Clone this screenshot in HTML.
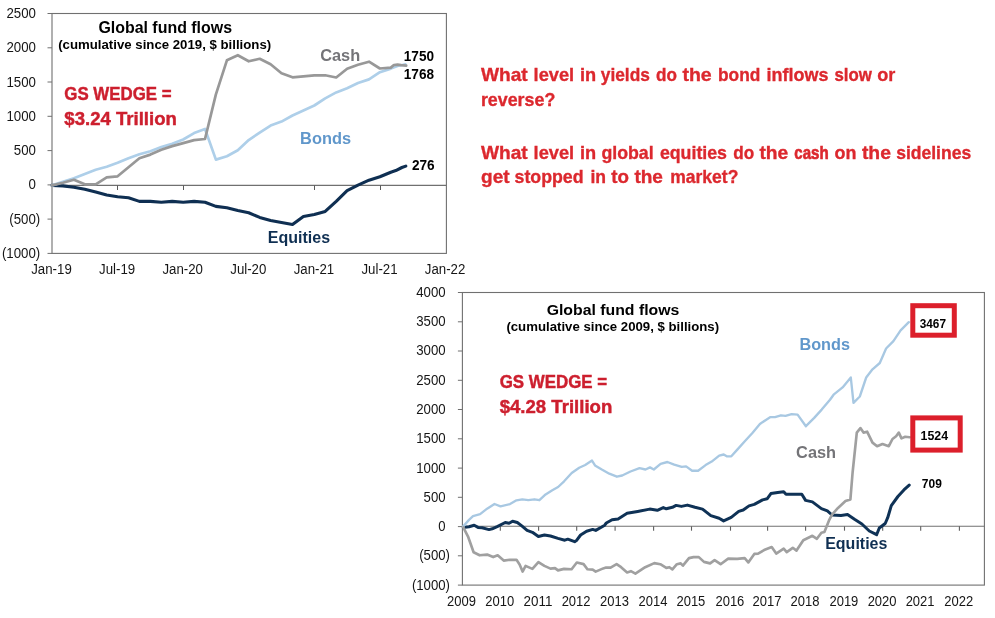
<!DOCTYPE html>
<html lang="en"><head><meta charset="utf-8"><title>Global fund flows</title>
<style>html,body{margin:0;padding:0;background:#fff}body{width:995px;height:618px;overflow:hidden}svg{display:block}text{font-family:"Liberation Sans",sans-serif}.ax{font-size:13.3px;fill:#161616}.b{font-weight:bold}.ln{fill:none;stroke-linejoin:round;stroke-linecap:round}</style></head><body>
<svg width="995" height="618" viewBox="0 0 995 618">
<rect width="995" height="618" fill="#ffffff"/>
<g id="chart1">
<rect x="52.0" y="13.5" width="394.4" height="239.9" fill="none" stroke="#707070" stroke-width="1.1"/>
<line x1="52.0" y1="185.4" x2="446.4" y2="185.4" stroke="#707070" stroke-width="1.1"/>
<line x1="47.5" y1="13.5" x2="52.0" y2="13.5" stroke="#707070" stroke-width="1"/>
<text x="35.9" y="18.1" class="ax" text-anchor="end" style="font-size:13.8px" textLength="29.5" lengthAdjust="spacingAndGlyphs">2500</text>
<line x1="47.5" y1="47.8" x2="52.0" y2="47.8" stroke="#707070" stroke-width="1"/>
<text x="35.9" y="52.3" class="ax" text-anchor="end" style="font-size:13.8px" textLength="29.5" lengthAdjust="spacingAndGlyphs">2000</text>
<line x1="47.5" y1="82.0" x2="52.0" y2="82.0" stroke="#707070" stroke-width="1"/>
<text x="35.9" y="86.6" class="ax" text-anchor="end" style="font-size:13.8px" textLength="29.5" lengthAdjust="spacingAndGlyphs">1500</text>
<line x1="47.5" y1="116.3" x2="52.0" y2="116.3" stroke="#707070" stroke-width="1"/>
<text x="35.9" y="120.9" class="ax" text-anchor="end" style="font-size:13.8px" textLength="29.5" lengthAdjust="spacingAndGlyphs">1000</text>
<line x1="47.5" y1="150.6" x2="52.0" y2="150.6" stroke="#707070" stroke-width="1"/>
<text x="35.9" y="155.1" class="ax" text-anchor="end" style="font-size:13.8px" textLength="22.1" lengthAdjust="spacingAndGlyphs">500</text>
<line x1="47.5" y1="184.9" x2="52.0" y2="184.9" stroke="#707070" stroke-width="1"/>
<text x="35.9" y="189.4" class="ax" text-anchor="end" style="font-size:13.8px" textLength="7.4" lengthAdjust="spacingAndGlyphs">0</text>
<line x1="47.5" y1="219.1" x2="52.0" y2="219.1" stroke="#707070" stroke-width="1"/>
<text x="40.2" y="223.7" class="ax" text-anchor="end" style="font-size:13.8px" textLength="30.9" lengthAdjust="spacingAndGlyphs">(500)</text>
<line x1="47.5" y1="253.4" x2="52.0" y2="253.4" stroke="#707070" stroke-width="1"/>
<text x="40.2" y="257.9" class="ax" text-anchor="end" style="font-size:13.8px" textLength="38.3" lengthAdjust="spacingAndGlyphs">(1000)</text>
<text x="51.5" y="273.9" class="ax" text-anchor="middle" style="font-size:13.8px" textLength="40.5" lengthAdjust="spacingAndGlyphs">Jan-19</text>
<line x1="117.5" y1="185.4" x2="117.5" y2="190.0" stroke="#5a5a5a" stroke-width="1"/>
<text x="117.1" y="273.9" class="ax" text-anchor="middle" style="font-size:13.8px" textLength="36.1" lengthAdjust="spacingAndGlyphs">Jul-19</text>
<line x1="183.5" y1="185.4" x2="183.5" y2="190.0" stroke="#5a5a5a" stroke-width="1"/>
<text x="182.7" y="273.9" class="ax" text-anchor="middle" style="font-size:13.8px" textLength="40.5" lengthAdjust="spacingAndGlyphs">Jan-20</text>
<text x="248.3" y="273.9" class="ax" text-anchor="middle" style="font-size:13.8px" textLength="36.1" lengthAdjust="spacingAndGlyphs">Jul-20</text>
<line x1="314.5" y1="185.4" x2="314.5" y2="190.0" stroke="#5a5a5a" stroke-width="1"/>
<text x="313.9" y="273.9" class="ax" text-anchor="middle" style="font-size:13.8px" textLength="40.5" lengthAdjust="spacingAndGlyphs">Jan-21</text>
<line x1="380.5" y1="185.4" x2="380.5" y2="190.0" stroke="#5a5a5a" stroke-width="1"/>
<text x="379.5" y="273.9" class="ax" text-anchor="middle" style="font-size:13.8px" textLength="36.1" lengthAdjust="spacingAndGlyphs">Jul-21</text>
<text x="445.1" y="273.9" class="ax" text-anchor="middle" style="font-size:13.8px" textLength="40.5" lengthAdjust="spacingAndGlyphs">Jan-22</text>
<polyline class="ln" points="52.0,185.4 62.9,185.9 73.9,187.3 84.8,189.3 95.7,192.0 106.7,195.0 117.6,196.8 128.5,197.8 139.4,201.4 150.4,201.4 161.3,202.2 172.2,201.4 183.2,202.2 194.1,201.4 205.0,202.2 215.9,206.4 226.9,207.8 237.8,210.5 248.7,212.8 259.7,217.4 270.6,220.4 281.5,222.4 292.5,224.4 303.4,216.4 314.3,214.4 325.2,211.4 336.2,201.3 347.1,190.7 358.0,185.2 369.0,180.2 379.9,176.8 390.8,172.2 395.8,170.6 401.9,167.5 405.8,166.1" stroke="#0f2f52" stroke-width="3.1"/>
<polyline class="ln" points="52.0,185.4 62.9,181.9 73.9,178.3 84.8,173.9 95.7,169.8 106.7,166.8 117.6,162.8 128.5,158.2 139.4,154.2 150.4,151.2 161.3,147.1 172.2,143.7 183.2,139.5 194.1,133.1 205.0,129.0 215.9,159.6 226.9,156.2 237.8,150.2 248.7,140.1 259.7,132.6 270.6,125.6 281.5,121.6 292.5,115.5 303.4,110.5 314.3,105.5 325.2,98.4 336.2,92.4 347.1,88.2 358.0,83.0 369.0,79.4 379.9,72.2 390.8,68.6 397.5,66.0 402.4,65.0 405.4,64.4" stroke="#aecfe9" stroke-width="2.7"/>
<polyline class="ln" points="52.0,185.4 62.9,182.7 73.9,179.7 84.8,184.3 95.7,184.3 106.7,177.3 117.6,176.3 128.5,167.2 139.4,158.2 150.4,154.6 161.3,149.7 172.2,146.1 183.2,143.1 194.1,140.1 205.0,139.0 215.9,94.4 226.9,60.3 237.8,55.2 248.7,61.3 259.7,58.8 270.6,64.3 281.5,73.3 292.5,77.3 303.4,76.3 314.3,75.3 325.2,75.3 336.2,77.5 347.1,68.8 358.0,64.8 369.0,61.7 379.9,68.5 390.8,67.6 393.9,65.0 397.5,64.7 401.2,65.2 406.2,65.6" stroke="#989898" stroke-width="2.7"/>
<text x="98.4" y="32.9" class="b" style="font-size:16px" fill="#000" textLength="133.6" lengthAdjust="spacingAndGlyphs">Global fund flows</text>
<text x="58.2" y="48.8" class="b" style="font-size:13.3px" fill="#000" textLength="213" lengthAdjust="spacingAndGlyphs">(cumulative since 2019, $ billions)</text>
<text x="64.3" y="99.7" class="b" style="font-size:18.7px" fill="#cd1f2e" textLength="107.3" lengthAdjust="spacingAndGlyphs" stroke="#cd1f2e" stroke-width="0.45">GS WEDGE =</text>
<text x="64.3" y="125.2" class="b" style="font-size:18.7px" fill="#cd1f2e" textLength="112.6" lengthAdjust="spacingAndGlyphs" stroke="#cd1f2e" stroke-width="0.45">$3.24 Trillion</text>
<text x="320.2" y="60.9" class="b" style="font-size:15.7px" fill="#747478" textLength="40" lengthAdjust="spacingAndGlyphs">Cash</text>
<text x="300.1" y="144.2" class="b" style="font-size:15.7px" fill="#6097cb" textLength="51" lengthAdjust="spacingAndGlyphs">Bonds</text>
<text x="267.8" y="242.5" class="b" style="font-size:15.7px" fill="#0f2f52" textLength="62.3" lengthAdjust="spacingAndGlyphs">Equities</text>
<text x="403.8" y="61.2" class="b" style="font-size:14px" fill="#000" textLength="30.2" lengthAdjust="spacingAndGlyphs">1750</text>
<text x="403.8" y="79.3" class="b" style="font-size:14px" fill="#000" textLength="30.2" lengthAdjust="spacingAndGlyphs">1768</text>
<text x="411.9" y="169.7" class="b" style="font-size:14px" fill="#000" textLength="22.7" lengthAdjust="spacingAndGlyphs">276</text>
</g>
<g id="questions">
<text y="80.5" class="b" font-size="18.5" fill="#dc282e" stroke="#dc282e" stroke-width="0.35"><tspan x="480.9" textLength="46.8" lengthAdjust="spacingAndGlyphs">What</tspan> <tspan x="533.6" textLength="40.5" lengthAdjust="spacingAndGlyphs">level</tspan> <tspan x="580.0" textLength="16.2" lengthAdjust="spacingAndGlyphs">in</tspan> <tspan x="600.8" textLength="49.1" lengthAdjust="spacingAndGlyphs">yields</tspan> <tspan x="656.0" textLength="20.9" lengthAdjust="spacingAndGlyphs" stroke-width="0.36">do</tspan> <tspan x="682.4" textLength="29.3" lengthAdjust="spacingAndGlyphs">the</tspan> <tspan x="718.0" textLength="42.3" lengthAdjust="spacingAndGlyphs">bond</tspan> <tspan x="766.6" textLength="61.8" lengthAdjust="spacingAndGlyphs">inflows</tspan> <tspan x="834.5" textLength="37.4" lengthAdjust="spacingAndGlyphs" stroke-width="0.40">slow</tspan> <tspan x="877.2" textLength="18.1" lengthAdjust="spacingAndGlyphs">or</tspan></text>
<text y="106.1" class="b" font-size="18.5" fill="#dc282e" stroke="#dc282e" stroke-width="0.35"><tspan x="480.9" textLength="74.4" lengthAdjust="spacingAndGlyphs">reverse?</tspan></text>
<text y="158.5" class="b" font-size="18.5" fill="#dc282e" stroke="#dc282e" stroke-width="0.35"><tspan x="480.9" textLength="46.8" lengthAdjust="spacingAndGlyphs">What</tspan> <tspan x="533.6" textLength="40.5" lengthAdjust="spacingAndGlyphs">level</tspan> <tspan x="580.0" textLength="16.2" lengthAdjust="spacingAndGlyphs">in</tspan> <tspan x="601.4" textLength="52.3" lengthAdjust="spacingAndGlyphs">global</tspan> <tspan x="659.9" textLength="67.1" lengthAdjust="spacingAndGlyphs">equities</tspan> <tspan x="733.3" textLength="20.9" lengthAdjust="spacingAndGlyphs" stroke-width="0.36">do</tspan> <tspan x="759.4" textLength="28.8" lengthAdjust="spacingAndGlyphs">the</tspan> <tspan x="794.3" textLength="34.4" lengthAdjust="spacingAndGlyphs" stroke-width="0.65">cash</tspan> <tspan x="834.5" textLength="21.9" lengthAdjust="spacingAndGlyphs">on</tspan> <tspan x="861.9" textLength="29.0" lengthAdjust="spacingAndGlyphs">the</tspan> <tspan x="896.2" textLength="75.0" lengthAdjust="spacingAndGlyphs">sidelines</tspan></text>
<text y="183.4" class="b" font-size="18.5" fill="#dc282e" stroke="#dc282e" stroke-width="0.35"><tspan x="481.1" textLength="28.5" lengthAdjust="spacingAndGlyphs">get</tspan> <tspan x="514.5" textLength="69.1" lengthAdjust="spacingAndGlyphs">stopped</tspan> <tspan x="590.4" textLength="15.6" lengthAdjust="spacingAndGlyphs">in</tspan> <tspan x="611.3" textLength="17.7" lengthAdjust="spacingAndGlyphs">to</tspan> <tspan x="634.4" textLength="28.5" lengthAdjust="spacingAndGlyphs">the</tspan> <tspan x="670.2" textLength="68.2" lengthAdjust="spacingAndGlyphs">market?</tspan></text>
</g>
<g id="chart2">
<rect x="462.4" y="292.5" width="522.0" height="292.6" fill="none" stroke="#707070" stroke-width="1.1"/>
<line x1="462.4" y1="526.3" x2="984.4" y2="526.3" stroke="#707070" stroke-width="1.1"/>
<line x1="457.9" y1="292.5" x2="462.4" y2="292.5" stroke="#707070" stroke-width="1"/>
<text x="445.6" y="296.9" class="ax" text-anchor="end" style="font-size:13.8px" textLength="29.4" lengthAdjust="spacingAndGlyphs">4000</text>
<line x1="457.9" y1="321.8" x2="462.4" y2="321.8" stroke="#707070" stroke-width="1"/>
<text x="445.6" y="326.2" class="ax" text-anchor="end" style="font-size:13.8px" textLength="29.4" lengthAdjust="spacingAndGlyphs">3500</text>
<line x1="457.9" y1="351.0" x2="462.4" y2="351.0" stroke="#707070" stroke-width="1"/>
<text x="445.6" y="355.4" class="ax" text-anchor="end" style="font-size:13.8px" textLength="29.4" lengthAdjust="spacingAndGlyphs">3000</text>
<line x1="457.9" y1="380.3" x2="462.4" y2="380.3" stroke="#707070" stroke-width="1"/>
<text x="445.6" y="384.7" class="ax" text-anchor="end" style="font-size:13.8px" textLength="29.4" lengthAdjust="spacingAndGlyphs">2500</text>
<line x1="457.9" y1="409.5" x2="462.4" y2="409.5" stroke="#707070" stroke-width="1"/>
<text x="445.6" y="413.9" class="ax" text-anchor="end" style="font-size:13.8px" textLength="29.4" lengthAdjust="spacingAndGlyphs">2000</text>
<line x1="457.9" y1="438.8" x2="462.4" y2="438.8" stroke="#707070" stroke-width="1"/>
<text x="445.6" y="443.2" class="ax" text-anchor="end" style="font-size:13.8px" textLength="29.4" lengthAdjust="spacingAndGlyphs">1500</text>
<line x1="457.9" y1="468.1" x2="462.4" y2="468.1" stroke="#707070" stroke-width="1"/>
<text x="445.6" y="472.5" class="ax" text-anchor="end" style="font-size:13.8px" textLength="29.4" lengthAdjust="spacingAndGlyphs">1000</text>
<line x1="457.9" y1="497.3" x2="462.4" y2="497.3" stroke="#707070" stroke-width="1"/>
<text x="445.6" y="501.7" class="ax" text-anchor="end" style="font-size:13.8px" textLength="22.0" lengthAdjust="spacingAndGlyphs">500</text>
<line x1="457.9" y1="526.6" x2="462.4" y2="526.6" stroke="#707070" stroke-width="1"/>
<text x="445.6" y="531.0" class="ax" text-anchor="end" style="font-size:13.8px" textLength="7.3" lengthAdjust="spacingAndGlyphs">0</text>
<line x1="457.9" y1="555.8" x2="462.4" y2="555.8" stroke="#707070" stroke-width="1"/>
<text x="450.0" y="560.2" class="ax" text-anchor="end" style="font-size:13.8px" textLength="30.8" lengthAdjust="spacingAndGlyphs">(500)</text>
<line x1="457.9" y1="585.1" x2="462.4" y2="585.1" stroke="#707070" stroke-width="1"/>
<text x="450.0" y="589.5" class="ax" text-anchor="end" style="font-size:13.8px" textLength="38.1" lengthAdjust="spacingAndGlyphs">(1000)</text>
<text x="461.5" y="605.5" class="ax" text-anchor="middle" style="font-size:13.8px" textLength="28.9" lengthAdjust="spacingAndGlyphs">2009</text>
<line x1="500.3" y1="526.3" x2="500.3" y2="530.6999999999999" stroke="#5f5f5f" stroke-width="1.1"/>
<text x="499.7" y="605.5" class="ax" text-anchor="middle" style="font-size:13.8px" textLength="28.9" lengthAdjust="spacingAndGlyphs">2010</text>
<line x1="538.6" y1="526.3" x2="538.6" y2="530.6999999999999" stroke="#5f5f5f" stroke-width="1.1"/>
<text x="538.0" y="605.5" class="ax" text-anchor="middle" style="font-size:13.8px" textLength="28.9" lengthAdjust="spacingAndGlyphs">2011</text>
<line x1="576.7" y1="526.3" x2="576.7" y2="530.6999999999999" stroke="#5f5f5f" stroke-width="1.1"/>
<text x="576.1" y="605.5" class="ax" text-anchor="middle" style="font-size:13.8px" textLength="28.9" lengthAdjust="spacingAndGlyphs">2012</text>
<line x1="615.1" y1="526.3" x2="615.1" y2="530.6999999999999" stroke="#5f5f5f" stroke-width="1.1"/>
<text x="614.5" y="605.5" class="ax" text-anchor="middle" style="font-size:13.8px" textLength="28.9" lengthAdjust="spacingAndGlyphs">2013</text>
<line x1="653.6" y1="526.3" x2="653.6" y2="530.6999999999999" stroke="#5f5f5f" stroke-width="1.1"/>
<text x="653.0" y="605.5" class="ax" text-anchor="middle" style="font-size:13.8px" textLength="28.9" lengthAdjust="spacingAndGlyphs">2014</text>
<line x1="691.5" y1="526.3" x2="691.5" y2="530.6999999999999" stroke="#5f5f5f" stroke-width="1.1"/>
<text x="690.9" y="605.5" class="ax" text-anchor="middle" style="font-size:13.8px" textLength="28.9" lengthAdjust="spacingAndGlyphs">2015</text>
<line x1="730.5" y1="526.3" x2="730.5" y2="530.6999999999999" stroke="#5f5f5f" stroke-width="1.1"/>
<text x="729.9" y="605.5" class="ax" text-anchor="middle" style="font-size:13.8px" textLength="28.9" lengthAdjust="spacingAndGlyphs">2016</text>
<line x1="767.6" y1="526.3" x2="767.6" y2="530.6999999999999" stroke="#5f5f5f" stroke-width="1.1"/>
<text x="767.0" y="605.5" class="ax" text-anchor="middle" style="font-size:13.8px" textLength="28.9" lengthAdjust="spacingAndGlyphs">2017</text>
<line x1="805.6" y1="526.3" x2="805.6" y2="530.6999999999999" stroke="#5f5f5f" stroke-width="1.1"/>
<text x="805.0" y="605.5" class="ax" text-anchor="middle" style="font-size:13.8px" textLength="28.9" lengthAdjust="spacingAndGlyphs">2018</text>
<line x1="844.5" y1="526.3" x2="844.5" y2="530.6999999999999" stroke="#5f5f5f" stroke-width="1.1"/>
<text x="843.9" y="605.5" class="ax" text-anchor="middle" style="font-size:13.8px" textLength="28.9" lengthAdjust="spacingAndGlyphs">2019</text>
<line x1="882.7" y1="526.3" x2="882.7" y2="530.6999999999999" stroke="#5f5f5f" stroke-width="1.1"/>
<text x="882.1" y="605.5" class="ax" text-anchor="middle" style="font-size:13.8px" textLength="28.9" lengthAdjust="spacingAndGlyphs">2020</text>
<line x1="920.7" y1="526.3" x2="920.7" y2="530.6999999999999" stroke="#5f5f5f" stroke-width="1.1"/>
<text x="920.1" y="605.5" class="ax" text-anchor="middle" style="font-size:13.8px" textLength="28.9" lengthAdjust="spacingAndGlyphs">2021</text>
<line x1="959.4" y1="526.3" x2="959.4" y2="530.6999999999999" stroke="#5f5f5f" stroke-width="1.1"/>
<text x="958.8" y="605.5" class="ax" text-anchor="middle" style="font-size:13.8px" textLength="28.9" lengthAdjust="spacingAndGlyphs">2022</text>
<polyline class="ln" points="463.3,527.4 469.0,526.8 474.2,525.3 478.0,527.4 482.1,527.8 489.0,529.6 492.2,528.8 497.7,526.4 505.2,522.5 509.0,523.3 512.6,521.2 517.3,522.5 521.8,525.9 527.1,530.4 532.4,532.3 538.4,536.5 544.4,535.0 550.5,536.0 558.0,538.4 564.8,540.2 567.8,539.2 574.6,541.7 576.8,540.2 580.6,535.0 586.6,531.2 592.7,529.4 595.7,530.4 601.7,527.0 604.7,525.2 606.3,523.0 612.1,519.7 618.1,518.9 627.1,513.3 637.7,511.4 649.7,509.1 657.3,510.3 663.3,507.6 666.3,508.8 672.4,507.3 676.1,505.4 681.4,506.4 687.4,505.1 695.0,507.3 702.5,509.1 710.8,515.6 719.1,518.2 723.6,520.9 731.2,517.4 738.7,511.4 743.2,510.0 749.0,505.9 754.3,504.4 762.6,499.9 767.1,498.8 770.9,493.6 777.7,492.4 783.7,491.8 786.0,494.3 801.8,494.3 805.6,500.4 812.4,501.9 821.4,508.6 827.4,510.9 832.0,515.0 841.0,515.4 847.5,514.6 854.5,519.3 861.9,524.0 869.3,531.0 876.6,534.7 879.3,528.0 885.2,523.5 887.7,517.7 891.3,505.6 897.9,496.5 903.9,489.9 909.2,485.1" stroke="#0f3256" stroke-width="3"/>
<polyline class="ln" points="463.0,526.6 469.0,519.9 473.0,516.2 480.1,514.2 487.1,508.7 494.5,504.0 500.5,506.3 510.0,504.1 516.5,500.3 522.3,499.4 528.3,500.1 534.4,499.3 539.4,500.2 545.6,494.4 552.3,490.2 558.1,487.0 564.1,481.3 571.7,473.0 579.2,467.7 585.2,465.0 592.0,460.6 595.0,465.4 601.8,469.5 609.3,473.7 616.9,476.7 622.2,475.5 630.5,471.5 639.5,468.1 645.5,469.5 650.0,467.4 653.8,469.5 660.6,463.9 667.4,462.0 674.2,464.7 681.7,466.9 686.1,466.4 692.1,470.7 698.1,470.7 705.6,465.1 711.7,461.6 719.2,455.6 723.7,454.5 726.7,456.3 731.3,456.3 737.3,449.6 744.8,441.3 752.4,433.0 759.9,423.9 765.9,419.9 770.5,417.1 775.0,417.1 781.0,415.3 785.5,415.9 791.6,414.1 797.6,414.6 805.9,426.2 814.2,417.9 821.7,409.6 830.0,399.8 833.6,394.7 842.6,387.4 850.8,377.5 853.5,402.8 859.8,396.5 866.2,377.5 872.5,369.3 879.8,363.0 886.1,348.5 893.4,341.2 900.6,330.3 908.8,322.2" stroke="#a8c8e2" stroke-width="2.35"/>
<polyline class="ln" points="463.3,527.4 468.3,537.2 473.6,552.3 479.6,555.3 487.1,554.6 493.2,557.1 497.7,555.3 503.7,560.6 509.8,559.8 516.5,559.8 519.6,564.4 522.6,571.6 525.6,565.9 532.4,568.9 538.4,562.1 544.4,565.9 550.5,568.6 555.0,568.1 558.0,570.4 564.0,568.9 571.6,569.2 576.8,562.5 583.6,564.1 587.4,569.2 592.7,569.6 595.7,571.6 603.2,568.4 606.0,567.6 610.6,567.6 616.6,564.2 621.1,567.2 627.1,572.4 630.9,571.2 635.4,573.6 645.2,567.2 654.3,563.1 660.3,564.2 666.3,567.9 669.4,567.2 672.4,569.4 676.9,564.2 680.7,563.4 682.9,565.7 689.0,558.1 693.5,557.1 698.8,557.1 704.0,561.9 710.1,563.4 714.6,560.1 720.6,564.2 728.2,558.6 737.2,558.9 744.7,558.1 748.3,562.4 754.3,553.9 758.1,553.6 764.1,550.1 771.7,547.1 776.2,553.6 783.7,548.6 786.7,552.1 792.8,547.8 796.5,550.6 803.3,540.3 812.4,535.8 816.9,538.8 821.4,532.8 824.4,532.0 828.9,520.7 832.0,514.7 838.0,507.9 845.5,501.1 850.4,499.4 852.6,472.5 856.8,432.6 860.4,428.1 863.5,432.6 867.1,431.7 872.5,442.6 877.1,446.2 882.5,444.0 888.8,446.2 892.5,439.0 896.1,436.3 898.8,432.6 901.5,438.4 905.2,436.8 909.7,437.2" stroke="#a0a0a0" stroke-width="2.65"/>
<text x="546.7" y="314.8" class="b" style="font-size:13.8px" fill="#000" textLength="132.6" lengthAdjust="spacingAndGlyphs">Global fund flows</text>
<text x="506.4" y="330.5" class="b" style="font-size:12.2px" fill="#000" textLength="212.7" lengthAdjust="spacingAndGlyphs">(cumulative since 2009, $ billions)</text>
<text x="499.7" y="387.8" class="b" style="font-size:18.2px" fill="#cd1f2e" textLength="107.5" lengthAdjust="spacingAndGlyphs" stroke="#cd1f2e" stroke-width="0.45">GS WEDGE =</text>
<text x="499.7" y="413.2" class="b" style="font-size:18.2px" fill="#cd1f2e" textLength="112.6" lengthAdjust="spacingAndGlyphs" stroke="#cd1f2e" stroke-width="0.45">$4.28 Trillion</text>
<text x="799.4" y="349.7" class="b" style="font-size:15.7px" fill="#6097cb" textLength="50.6" lengthAdjust="spacingAndGlyphs">Bonds</text>
<text x="796.1" y="457.9" class="b" style="font-size:15.7px" fill="#747478" textLength="40" lengthAdjust="spacingAndGlyphs">Cash</text>
<text x="825.2" y="549.4" class="b" style="font-size:15.8px" fill="#0f2f52" textLength="62.2" lengthAdjust="spacingAndGlyphs">Equities</text>
<rect x="912.8" y="305.7" width="41.5" height="29.5" fill="#fff" stroke="#dc1f2b" stroke-width="5"/>
<text x="919.7" y="327.7" class="b" style="font-size:13.6px" fill="#000" textLength="26.3" lengthAdjust="spacingAndGlyphs">3467</text>
<rect x="912.8" y="417.9" width="47.4" height="32.2" fill="#fff" stroke="#dc1f2b" stroke-width="5"/>
<text x="920.6" y="440.4" class="b" style="font-size:13.6px" fill="#000" textLength="27.5" lengthAdjust="spacingAndGlyphs">1524</text>
<text x="921.8" y="488.1" class="b" style="font-size:13.4px" fill="#000" textLength="20" lengthAdjust="spacingAndGlyphs">709</text>
</g>
</svg></body></html>
